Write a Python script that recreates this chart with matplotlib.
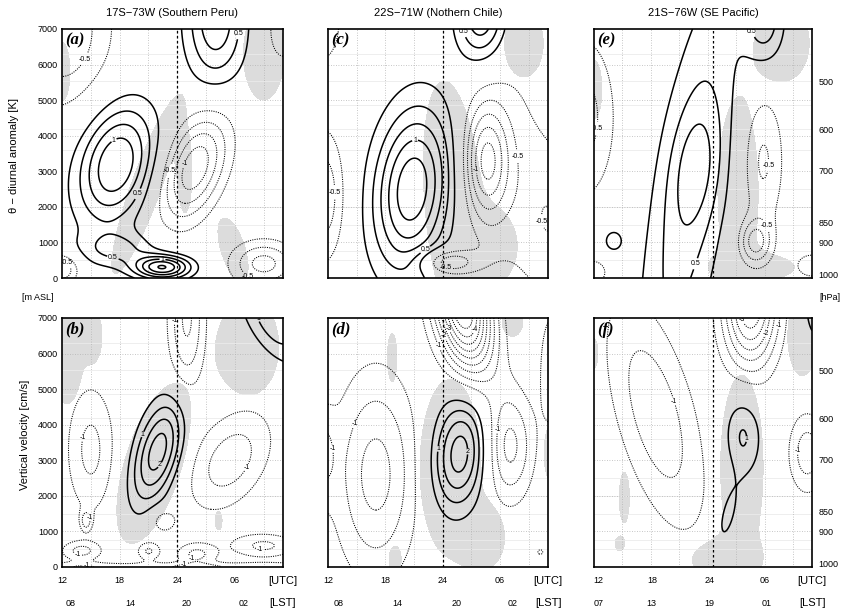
import numpy as np
import matplotlib.pyplot as plt

plt.rcParams['font.family'] = ['Liberation Sans', 'DejaVu Sans']

# panel titles / labels
titles = ['17S\u221273W (Southern Peru)', '22S\u221271W (Nothern Chile)', '21S\u221276W (SE Pacific)']
letters_top = ['(a)', '(c)', '(e)']
letters_bot = ['(b)', '(d)', '(f)']
height_ticks = [0, 1000, 2000, 3000, 4000, 5000, 6000, 7000]
p_labels = ['500', '600', '700', '850', '900', '1000']
p_heights = [5500, 4150, 2980, 1520, 980, 60]
utc_labels = ['12', '18', '24', '06']
utc_pos = [[12, 18, 24, 30], [12, 18, 24, 30], [12.5, 18.2, 24.2, 30.0]]
lst_labels = [['08', '14', '20', '02'], ['08', '14', '20', '02'], ['07', '13', '19', '01']]
lst_pos = [[12.85, 19.1, 25.0, 30.9], [13.1, 19.3, 25.4, 31.3], [12.5, 18.1, 24.2, 30.2]]
ref_line = [24.0, 24.0, 24.6]

# anomaly blobs: (utc hour, height m, amplitude, width h, depth m, tilt h/km)
theta_a = [(17.6, 3200, 1.25, 2.7, 1150, 0.6), (25.8, 3100, -1.2, 2.2, 1050, 1.0),
           (28.0, 7300, 0.95, 2.2, 1300, 0), (12.0, 7000, -0.75, 3.5, 1500, 0),
           (35.0, 7000, -0.4, 1.5, 800, 0), (22.5, 300, 1.5, 2.0, 230, 0),
           (18.0, 800, 0.5, 3.0, 350, 0), (33.0, 400, -0.85, 2.4, 450, 0),
           (12.0, 250, -0.75, 1.2, 300, 0)]
theta_c = [(20.8, 2500, 1.45, 2.8, 1600, 0.3), (28.5, 3300, -1.15, 1.6, 1100, 0),
           (31.0, 3000, -0.35, 3.0, 2500, 0), (28.0, 7400, 1.0, 1.8, 900, 0),
           (11.5, 2300, -0.7, 1.6, 1300, 0), (11.5, 7200, -0.45, 1.5, 900, 0),
           (24.5, 450, -0.8, 2.0, 250, 0), (35.5, 1500, -0.4, 2.0, 1500, 0)]
theta_e = [(21.8, 2000, 0.62, 2.8, 4500, 0.55), (22.8, 3100, 0.35, 1.8, 1200, 0.3),
           (29.0, 1000, -0.8, 1.2, 450, 0), (29.8, 3300, -0.55, 1.6, 1400, 0),
           (11.0, 4500, -0.6, 2.3, 1600, 0), (30.0, 7300, 0.65, 1.5, 900, 0),
           (14.0, 1050, 0.4, 0.8, 250, 0), (12.0, 150, -0.4, 1.2, 300, 0),
           (35.0, 350, -0.4, 1.5, 300, 0)]
w_b = [(22.0, 3250, 2.3, 1.7, 1050, 0.9), (25.0, 7000, -1.6, 1.35, 1600, 0),
       (34.0, 7000, 1.4, 2.0, 900, -1.5), (15.0, 3300, -1.15, 1.8, 1300, 0),
       (29.5, 3000, -1.3, 2.8, 1000, 1.2), (14.5, 1300, -1.1, 0.4, 200, 0),
       (14.0, 450, -1.1, 1.5, 200, 0), (21.0, 450, -1.1, 0.9, 200, 0),
       (26.0, 350, -1.1, 1.5, 230, 0), (33.0, 600, -1.1, 2.5, 250, 0),
       (22.5, 1300, -0.9, 1.0, 250, 0), (23.5, 0, -0.9, 100, 90, 0)]
w_d = [(25.8, 3200, 2.3, 2.0, 1100, 0.3), (26.0, 7400, -5.2, 2.0, 1300, -0.6),
       (17.0, 2600, -1.7, 3.0, 2000, 0), (30.9, 3400, -1.7, 1.8, 1100, 0),
       (35.5, 5600, -1.0, 1.0, 1200, 0), (11.5, 3200, -0.9, 0.9, 900, 0),
       (34.2, 420, -0.6, 0.4, 100, 0)]
w_f = [(27.7, 3700, 1.1, 1.4, 850, 0), (26.0, 1400, 0.8, 0.8, 700, 0.8),
       (28.5, 7500, -3.6, 2.0, 1300, 0), (18.5, 4300, -1.35, 3.0, 2300, -0.9),
       (34.5, 3200, -1.3, 1.4, 800, 0), (11.0, 1900, -0.7, 1.0, 900, 0),
       (36.0, 7300, 0.9, 1.5, 800, 0)]

# grey shaded areas, same blob form
shade_a = [(20.8, 2600, 1, 1.4, 2100, 1.3), (24.8, 2900, 1, 0.6, 900, 0),
           (12.0, 5800, 1, 0.7, 700, 0), (33.0, 6300, 1, 1.8, 1100, 0),
           (29.8, 800, 1, 1.1, 750, -1.0)]
shade_c = [(25.2, 2000, 1, 2.6, 3000, -0.3), (29.5, 900, 1, 1.8, 700, 0),
           (32.5, 6600, 1, 1.7, 800, 0)]
shade_e = [(27.2, 2400, 1, 1.8, 2200, 0), (29.0, 300, 1, 3.5, 300, 0),
           (32.0, 6600, 1, 2.3, 900, 0), (12.0, 5300, 1, 0.7, 700, 0)]
shade_b = [(21.5, 2900, 1, 2.6, 1900, 1.0), (12.5, 6000, 1, 1.4, 1200, 0),
           (15.3, 6500, 1, 0.7, 550, 0), (31.5, 6200, 1, 2.6, 1150, 0),
           (28.3, 1300, 1, 0.3, 220, 0)]
shade_d = [(24.8, 2800, 1, 2.7, 2100, 0), (28.5, 800, 1, 1.5, 600, 0),
           (18.7, 5900, 1, 0.4, 550, 0), (31.3, 6900, 1, 0.9, 350, 0),
           (35.3, 3200, 1, 0.6, 650, 0), (19.0, 200, 1, 0.5, 300, 0)]
shade_f = [(27.6, 2800, 1, 1.9, 2200, 0), (25.5, 200, 1, 2.6, 400, 0),
           (34.0, 6500, 1, 1.3, 950, 0), (15.2, 1950, 1, 0.45, 600, 0),
           (14.7, 650, 1, 0.4, 160, 0), (12.0, 6000, 1, 0.35, 350, 0)]

theta_levels = [-1.5, -1.25, -1, -0.75, -0.5, -0.25, 0.25, 0.5, 0.75, 1, 1.25, 1.5]
w_levels = [-5, -4.5, -4, -3.5, -3, -2.5, -2, -1.5, -1, -0.5, 0.5, 1, 1.5, 2, 2.5, 3]
faint_z = [500, 750, 1500, 2000, 2500, 3600, 4200, 4850, 5550, 6300]

t = np.linspace(12, 35, 231)
z = np.linspace(0, 7000, 281)
T, Z = np.meshgrid(t, z)


def field(blobs):
    F = np.zeros_like(T)
    for t0, z0, a, st, sz, s in blobs:
        tc = t0 + s * (Z - z0) / 1000.0
        F += a * np.exp(-0.5 * ((T - tc) / st) ** 2 - 0.5 * ((Z - z0) / sz) ** 2)
    return F


fig = plt.figure(figsize=(8.43, 6.11), dpi=100)
lefts = [62 / 843, 328 / 843, 594 / 843]
widths = [221 / 843, 220 / 843, 218 / 843]
bottoms = [1 - 278 / 611, 1 - 567 / 611]
height = 249 / 611

top_data = [(theta_a, shade_a), (theta_c, shade_c), (theta_e, shade_e)]
bot_data = [(w_b, shade_b), (w_d, shade_d), (w_f, shade_f)]

for col in range(3):
    for row in range(2):
        blobs, shade = (top_data if row == 0 else bot_data)[col]
        levels = theta_levels if row == 0 else w_levels
        lab = [-1, -0.5, 0.5, 1] if row == 0 else [-4, -3, -2, -1, 1, 2]
        ax = fig.add_axes([lefts[col], bottoms[row], widths[col], height])
        ax.contourf(t, z, field(shade), levels=[0.5, 100], colors=['#dcdcdc'], zorder=0)
        for zz in faint_z:
            ax.axhline(zz, color='#ebebeb', lw=0.6, zorder=1)
        for hh in range(15, 35, 3):
            ax.axvline(hh, color='#b4b4b4', lw=0.6, ls=(0, (1, 2)), zorder=1)
        for zz in range(1000, 7000, 1000):
            ax.axhline(zz, color='#b4b4b4', lw=0.6, ls=(0, (1, 2)), zorder=1)
        F = field(blobs)
        pos = [l for l in levels if l > 0]
        neg = [l for l in levels if l < 0]
        cp = ax.contour(t, z, F, levels=pos, colors='k', linewidths=1.1, linestyles='solid', zorder=3)
        cn = ax.contour(t, z, F, levels=neg, colors='k', linewidths=0.75,
                        linestyles=[(0, (1, 1.2))], zorder=3)
        for cs in (cp, cn):
            ll = [l for l in cs.levels if l in lab]
            if ll:
                txts = ax.clabel(cs, levels=ll, fmt='%g', fontsize=5, inline=True, inline_spacing=1)
                for tx in txts:
                    tx.set_rotation(0)
        ax.axvline(ref_line[col], color='k', lw=0.9, ls=(0, (2, 2)), zorder=4)
        ax.set_xlim(12, 35)
        ax.set_ylim(0, 7000)
        ax.set_xticks([])
        ax.set_yticks(height_ticks)
        ax.tick_params(length=0, labelsize=6.5, pad=3)
        if col > 0:
            ax.set_yticklabels([])
        for sp in ax.spines.values():
            sp.set_linewidth(1.2)
        ax.text(0.015, 0.985, letters_top[col] if row == 0 else letters_bot[col],
                transform=ax.transAxes, ha='left', va='top', fontsize=12,
                family='Liberation Serif', weight='bold', style='italic', zorder=5)
        if col == 2:
            for lbl, ph in zip(p_labels, p_heights):
                ax.text(1.03, ph, lbl, transform=ax.get_yaxis_transform(),
                        ha='left', va='center', fontsize=6.5)
        if row == 1:
            tr = ax.get_xaxis_transform()
            for lbl, x in zip(utc_labels, utc_pos[col]):
                ax.text(x, -0.055, lbl, transform=tr, ha='center', va='center', fontsize=6.5)
            for lbl, x in zip(lst_labels[col], lst_pos[col]):
                ax.text(x, -0.145, lbl, transform=tr, ha='center', va='center', fontsize=6.5)
            ax.text(35, -0.055, '[UTC]', transform=tr, ha='center', va='center', fontsize=8)
            ax.text(35, -0.145, '[LST]', transform=tr, ha='center', va='center', fontsize=8)
    fig.text(lefts[col] + widths[col] / 2, 1 - 13 / 611, titles[col],
             ha='center', va='center', fontsize=8)

fig.text(14 / 843, 1 - 155 / 611, '\u03b8 \u2212 diurnal anomaly [K]', rotation=90,
         ha='center', va='center', fontsize=8)
fig.text(25 / 843, 1 - 435 / 611, 'Vertical velocity [cm/s]', rotation=90,
         ha='center', va='center', fontsize=8)
fig.text(22 / 843, 1 - 297 / 611, '[m ASL]', ha='left', va='center', fontsize=6.5)
fig.text(830 / 843, 1 - 297 / 611, '[hPa]', ha='center', va='center', fontsize=6.5)

fig.savefig('out.png', dpi=100)
